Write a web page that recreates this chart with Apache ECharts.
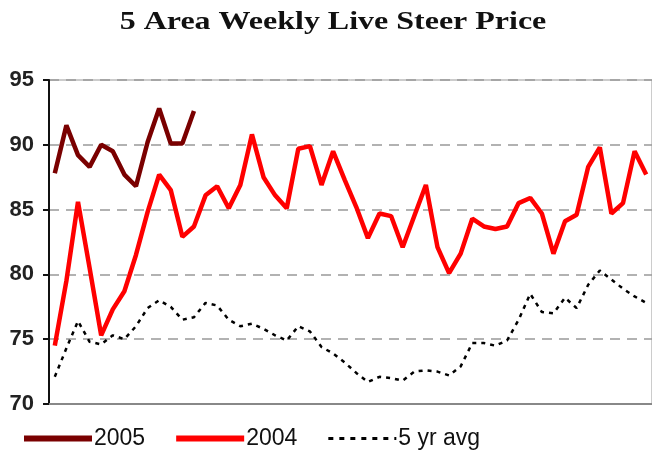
<!DOCTYPE html>
<html lang="en">
<head>
    <meta charset="UTF-8" />
    <title>5 Area Weekly Live Steer Price</title>
    <script src="https://cdn.jsdelivr.net/npm/echarts@6/dist/echarts.min.js"></script>
    <style>
        html, body { margin: 0; padding: 0; background: #fff; }
        #main { width: 652px; height: 451px; }
    </style>
</head>
<body>
    <div id="main"></div>
    <script>
        // weeks 1..52
        var weeks = [];
        for (var i = 1; i <= 52; i++) weeks.push(i);

        var yTicks = [70, 75, 80, 85, 90, 95];

        var y2005 = [87.8, 91.5, 89.2, 88.3, 90.0, 89.5, 87.7, 86.8, 90.2, 92.8, 90.1, 90.1, 92.6];

        var y2004 = [74.5, 79.5, 85.6, 80.5, 75.3, 77.3, 78.7, 81.5, 84.8, 87.7,
            86.5, 82.9, 83.7, 86.1, 86.8, 85.1, 86.9, 90.8, 87.5, 86.1,
            85.1, 89.7, 89.9, 86.9, 89.5, 87.3, 85.2, 82.8, 84.7, 84.5,
            82.1, 84.5, 86.9, 82.1, 80.1, 81.6, 84.3, 83.7, 83.5, 83.7,
            85.5, 85.9, 84.7, 81.6, 84.1, 84.6, 88.3, 89.8, 84.7, 85.5,
            89.5, 87.7];

        var avg5yr = [72.1, 74.3, 76.4, 74.8, 74.6, 75.3, 75.0, 76.0, 77.4, 78.0,
            77.5, 76.5, 76.7, 77.8, 77.6, 76.5, 76.0, 76.2, 75.8, 75.3,
            74.9, 76.0, 75.6, 74.4, 73.9, 73.2, 72.4, 71.7, 72.1, 72.0,
            71.8, 72.5, 72.6, 72.5, 72.2, 72.9, 74.7, 74.7, 74.5, 74.9,
            76.5, 78.5, 77.1, 77.0, 78.2, 77.4, 79.2, 80.3, 79.6, 78.9,
            78.3, 77.8];

        // legend icons: solid bar and a row of short dashes
        var solidIcon = 'path://M0,0 L68,0 L68,6 L0,6 Z';
        var dotIcon = 'path://M0,0 h5 v3 h-5 Z M11,0 h5 v3 h-5 Z M22,0 h5 v3 h-5 Z M33,0 h5 v3 h-5 Z M44,0 h5 v3 h-5 Z M55,0 h5 v3 h-5 Z M66,0 h2 v3 h-2 Z';

        var myChart = echarts.init(document.getElementById('main'));

        var option = {
            backgroundColor: '#fff',
            animation: false,
            graphic: [
                {
                    type: 'text',
                    x: 333,
                    y: 22,
                    scaleX: 1.23,
                    style: {
                        text: '5 Area Weekly Live Steer Price',
                        align: 'center',
                        verticalAlign: 'middle',
                        font: 'bold 26px "Liberation Serif"',
                        fill: '#111'
                    }
                }
            ],
            legend: {
                top: 422,
                left: 19,
                itemWidth: 68,
                itemHeight: 8,
                itemGap: 31,
                textStyle: {
                    fontFamily: 'Liberation Sans Narrow, Liberation Sans',
                    fontSize: 23,
                    color: '#111',
                    padding: [0, 0, 0, -3]
                },
                data: [
                    { name: '2005', icon: solidIcon },
                    { name: '2004', icon: solidIcon },
                    { name: '5 yr avg', icon: dotIcon, itemStyle: { color: '#000' } }
                ]
            },
            grid: {
                left: 49,
                right: 0,
                top: 80,
                bottom: 47,
                show: true,
                borderColor: '#999',
                borderWidth: 1
            },
            xAxis: {
                type: 'category',
                data: weeks,
                boundaryGap: true,
                axisLine: { lineStyle: { color: '#888', width: 2 } },
                axisTick: { show: false },
                axisLabel: { show: false },
                splitLine: { show: false }
            },
            yAxis: {
                type: 'value',
                min: yTicks[0],
                max: yTicks[yTicks.length - 1],
                interval: 5,
                axisLine: { show: true, lineStyle: { color: '#111', width: 2 } },
                axisTick: { show: true, length: 6, lineStyle: { color: '#111', width: 2 } },
                axisLabel: {
                    fontFamily: 'Liberation Sans',
                    fontWeight: 'bold',
                    fontSize: 22,
                    color: '#222',
                    margin: 15
                },
                splitLine: {
                    show: true,
                    lineStyle: { color: '#999', type: [10, 7], width: 1.5 }
                }
            },
            series: [
                {
                    name: '2005',
                    type: 'line',
                    data: y2005,
                    symbol: 'none',
                    color: '#7a0000',
                    lineStyle: { color: '#7a0000', width: 4.5 }
                },
                {
                    name: '2004',
                    type: 'line',
                    data: y2004,
                    symbol: 'none',
                    color: '#ff0000',
                    lineStyle: { color: '#ff0000', width: 4.5 }
                },
                {
                    name: '5 yr avg',
                    type: 'line',
                    data: avg5yr,
                    symbol: 'none',
                    color: '#000',
                    lineStyle: { color: '#000', width: 2.5, type: [4, 5] }
                }
            ]
        };

        myChart.setOption(option);
    </script>
</body>
</html>
